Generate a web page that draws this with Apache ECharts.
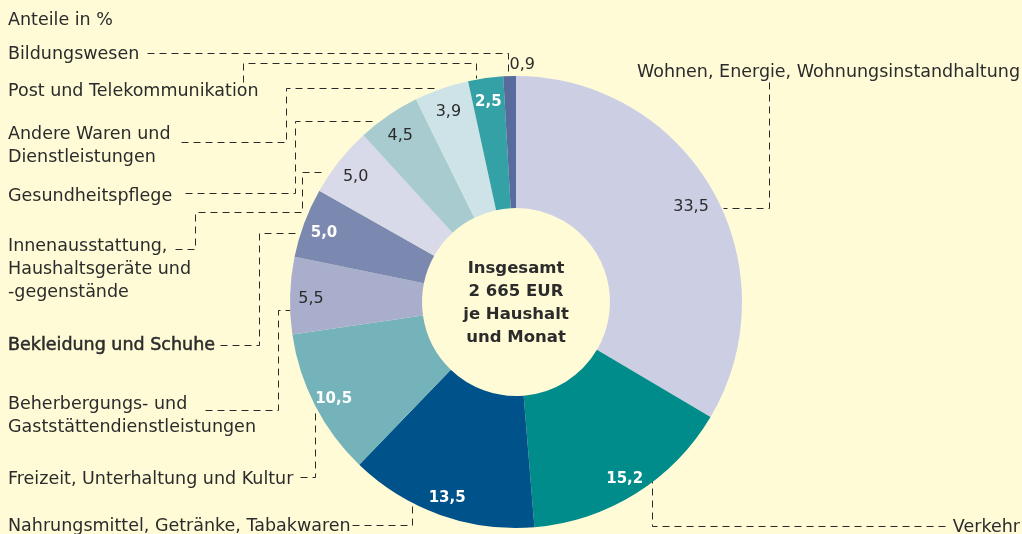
<!DOCTYPE html>
<html>
<head>
<meta charset="utf-8">
<script src="https://cdn.jsdelivr.net/npm/echarts@6/dist/echarts.min.js"></script>
<style>
html, body { margin: 0; padding: 0; background: #fffbd7; }
#main { width: 1022px; height: 534px; }
</style>
</head>
<body>
<div id="main"></div>
<script>
// Konsumausgaben privater Haushalte, Anteile in %
const categories = [
  'Wohnen, Energie, Wohnungsinstandhaltung',
  'Verkehr',
  'Nahrungsmittel, Getränke, Tabakwaren',
  'Freizeit, Unterhaltung und Kultur',
  'Beherbergungs- und\nGaststättendienstleistungen',
  'Bekleidung und Schuhe',
  'Innenausstattung,\nHaushaltsgeräte und\n-gegenstände',
  'Gesundheitspflege',
  'Andere Waren und\nDienstleistungen',
  'Post und Telekommunikation',
  'Bildungswesen'
];
const shares = [33.5, 15.2, 13.5, 10.5, 5.5, 5.0, 5.0, 4.5, 3.9, 2.5, 0.9];
const centerText = 'Insgesamt\n2 665 EUR\nje Haushalt\nund Monat';

// styles
const sliceColors = ['#cccee4', '#008c8a', '#00528a', '#73b3b9', '#a8aecb', '#7b89b1',
  '#d8dae9', '#a7cbce', '#cee3e7', '#33a1a6', '#576c9d'];
const whiteValue = [false, true, true, true, false, true, false, false, false, true, false];
const font = 'DejaVu Sans';
const ink = '#2b2b2b';

// where the name labels sit and how the dashed leaders run (pixels)
const labelPos = [
  { x: 1020, y: 72, align: 'right' },
  { x: 1020, y: 527, align: 'right' },
  { x: 8, y: 526 },
  { x: 8, y: 479 },
  { x: 8, y: 416 },
  { x: 8, y: 345 },
  { x: 8, y: 269 },
  { x: 8, y: 196 },
  { x: 8, y: 145.5 },
  { x: 8, y: 91 },
  { x: 8, y: 54 }
];
const leaders = [
  [[769, 82], [769, 208], [723, 208]],
  [[945, 526], [652, 526], [652, 473]],
  [[352, 525], [412, 525], [412, 506]],
  [[300, 477], [315, 477], [315, 413]],
  [[205, 410], [278, 410], [278, 310], [290, 310]],
  [[220, 345], [259, 345], [259, 233], [300, 233]],
  [[175, 249], [195, 249], [195, 212], [302, 212], [302, 172], [325, 172]],
  [[185, 193], [295, 193], [295, 121], [377, 121]],
  [[181, 142], [286, 142], [286, 88], [435, 88]],
  [[243, 82], [243, 63], [476, 63], [476, 78]],
  [[147, 53], [508, 53], [508, 75]]
];

const chart = echarts.init(document.getElementById('main'));
chart.setOption({
  backgroundColor: '#fffbd7',
  animation: false,
  title: [
    {
      text: 'Anteile in %', left: 8, top: 11, padding: 0,
      textStyle: { fontFamily: font, fontSize: 17.5, fontWeight: 'normal', color: ink }
    },
    {
      text: centerText, left: 516, top: 257, padding: 0, textAlign: 'center',
      textStyle: { fontFamily: font, fontSize: 16.5, fontWeight: 'bold', color: ink, lineHeight: 23 }
    }
  ],
  series: [
    {
      type: 'pie',
      center: [516, 302],
      radius: [94, 226],
      startAngle: 90,
      clockwise: true,
      avoidLabelOverlap: false,
      silent: true,
      itemStyle: { borderWidth: 0 },
      label: {
        show: true, position: 'outside', formatter: '{b}',
        fontFamily: font, fontSize: 17.5, lineHeight: 23, color: ink
      },
      labelLine: { show: true, lineStyle: { color: '#2b2b2b', width: 1, type: [7, 5] } },
      labelLayout: function (p) {
        const pos = labelPos[p.dataIndex];
        return {
          x: pos.x, y: pos.y, align: pos.align || 'left', verticalAlign: 'middle',
          labelLinePoints: leaders[p.dataIndex].map(pt => [pt[0] + 0.5, pt[1] + 0.5])
        };
      },
      data: shares.map((v, i) => ({
        value: v, name: categories[i],
        itemStyle: { color: sliceColors[i] },
        label: i === 5 ? { textBorderColor: ink, textBorderWidth: 0.5 } : {}
      }))
    },
    {
      type: 'pie',
      center: [516, 302],
      radius: [178, 226],
      startAngle: 90,
      silent: true,
      z: 3,
      itemStyle: { color: 'rgba(0,0,0,0)', borderWidth: 0 },
      label: {
        show: true, position: 'inside', fontFamily: font, fontSize: 16,
        formatter: p => p.value.toFixed(1).replace('.', ',')
      },
      labelLine: { show: false },
      labelLayout: function (p) {
        if (p.dataIndex === 10) return { dx: 12, dy: -32 };
        if (p.dataIndex === 0) return { dx: -3, dy: 6 };
        return { dy: 3 };
      },
      data: shares.map((v, i) => ({
        value: v, name: categories[i],
        label: {
          color: whiteValue[i] ? '#ffffff' : ink,
          fontWeight: whiteValue[i] ? 'bold' : 'normal',
          fontSize: whiteValue[i] ? 15 : 16
        }
      }))
    }
  ]
});
</script>
</body>
</html>
